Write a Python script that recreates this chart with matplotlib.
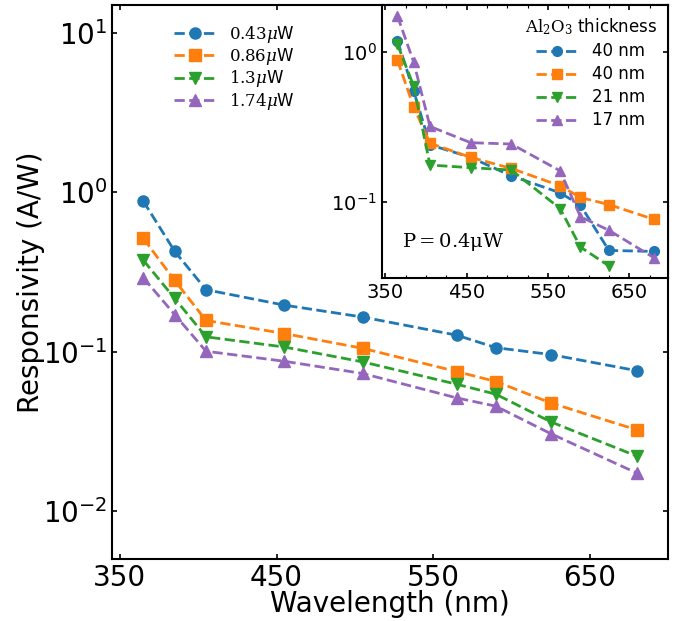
import matplotlib
matplotlib.use('Agg')
import matplotlib.pyplot as plt
from matplotlib.ticker import MultipleLocator, NullLocator

# wavelengths (nm)
wavelength = [365, 385, 405, 455, 505, 565, 590, 625, 680]
x_ticks = [350, 450, 550, 650]

# main plot: responsivity (A/W) for different light powers
power_labels = [r'$0.43\mu$W', r'$0.86\mu$W', r'$1.3\mu$W', r'$1.74\mu$W']
resp_043 = [0.88, 0.427, 0.245, 0.196, 0.165, 0.127, 0.106, 0.096, 0.076]
resp_086 = [0.514, 0.280, 0.157, 0.130, 0.105, 0.0751, 0.065, 0.0477, 0.0323]
resp_13 = [0.375, 0.216, 0.124, 0.107, 0.0863, 0.0625, 0.0541, 0.0363, 0.0221]
resp_174 = [0.291, 0.171, 0.1007, 0.0871, 0.0730, 0.0513, 0.0455, 0.0306, 0.0173]

# inset: responsivity at P = 0.4 uW for different Al2O3 thickness
thickness_labels = ['40 nm', '40 nm', '21 nm', '17 nm']
ins_40a = [1.18, 0.545, 0.240, 0.198, 0.149, 0.115, 0.095, 0.0475, 0.0468]
ins_40b = [0.879, 0.428, 0.246, 0.198, 0.167, 0.128, 0.107, 0.096, 0.0766]
ins_21 = [1.12, 0.589, 0.176, 0.169, 0.163, 0.0903, 0.050, 0.0375]
ins_17 = [1.73, 0.851, 0.318, 0.248, 0.243, 0.161, 0.0796, 0.0647, 0.0426]


def style_axes(ax, size):
    ax.set_yscale('log')
    ax.yaxis.set_minor_locator(NullLocator())
    ax.set_xticks(x_ticks)
    ax.tick_params(which='major', direction='in', top=True, right=True,
                   length=3.5, width=1.2, labelsize=size)
    for spine in ax.spines.values():
        spine.set_linewidth(1.5)


def main():
    plt.rcParams['mathtext.fontset'] = 'dejavuserif'

    fig = plt.figure(figsize=(6.8, 6.21), dpi=100)
    ax = fig.add_axes([0.1647, 0.0998, 0.8181, 0.8922])

    series = [resp_043, resp_086, resp_13, resp_174]
    markers = ['o', 's', 'v', '^']
    colors = ['C0', 'C1', 'C2', 'C4']
    for ys, m, c, lab in zip(series, markers, colors, power_labels):
        ax.plot(wavelength, ys, '--', marker=m, color=c, lw=2, ms=8, label=lab)

    style_axes(ax, 20)
    ax.set_xlim(345, 700)
    ax.set_ylim(0.005, 15)
    ax.set_xlabel('Wavelength (nm)', fontsize=20, labelpad=-1)
    ax.set_ylabel('Responsivity (A/W)', fontsize=20, labelpad=-2)
    ax.legend(loc='upper left', bbox_to_anchor=(0.099, 0.978), borderaxespad=0,
              frameon=False, fontsize=12, handlelength=2.5, labelspacing=0.08)

    # inset
    ins = fig.add_axes([0.5618, 0.5519, 0.421, 0.4401])
    ins_series = [ins_40a, ins_40b, ins_21, ins_17]
    for ys, m, c, lab in zip(ins_series, markers, colors, thickness_labels):
        ins.plot(wavelength[:len(ys)], ys, '--', marker=m, color=c, lw=2, ms=7, label=lab)

    style_axes(ins, 14)
    ins.xaxis.set_minor_locator(MultipleLocator(25))
    ins.tick_params(which='minor', direction='in', top=True, length=2, width=0.8)
    ins.set_xlim(346, 698)
    ins.set_ylim(0.031, 2.05)
    ins.text(0.07, 0.115, r'$\mathrm{P = 0.4\mu W}$', transform=ins.transAxes,
             fontsize=14, va='baseline')
    ins.legend(loc='upper right', frameon=False, fontsize=12, handlelength=2.6,
               labelspacing=0.3, title=r'$\mathrm{Al_2O_3}$ thickness',
               title_fontsize=12, borderaxespad=0.3)

    plt.savefig('out.png', dpi=100)


if __name__ == '__main__':
    main()
